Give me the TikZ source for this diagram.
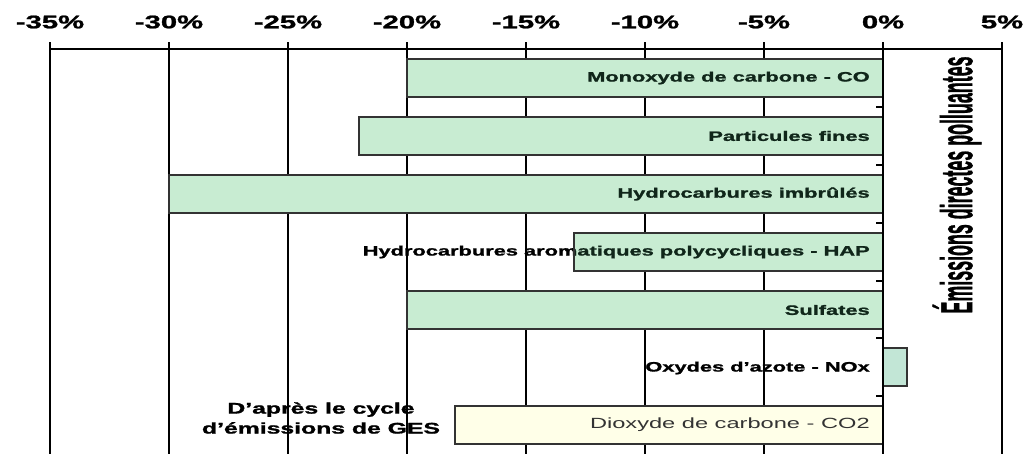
\documentclass[tikz,border=0pt]{standalone}
\usepackage{fontspec}
\setmainfont{Liberation Sans}[BoldFeatures={FakeBold=1.2}]
\definecolor{barg}{HTML}{C8ECD2}
\definecolor{barn}{HTML}{C2E6D6}
\definecolor{bary}{HTML}{FFFFE8}
\definecolor{txtg}{HTML}{10261A}
\tikzset{
  gridline/.style={line width=1.8pt, black},
  barbox/.style={draw=black!80, line width=1.3pt, fill=barg},
  axlbl/.style={font=\fontsize{13}{15}\selectfont\bfseries, inner sep=0},
  barlbl/.style={font=\fontsize{9.7}{11}\selectfont\bfseries, text=txtg, anchor=east, inner sep=0},
  outlbl/.style={barlbl, text=black},
}
\newcommand{\wide}[1]{\scalebox{1.6}[1]{#1}}
\begin{document}
\begin{tikzpicture}[x=0.025cm,y=-0.025cm]
\useasboundingbox (0,0) rectangle (1030,454);
% labels lying outside the bars (crossed by grid lines)
\node[outlbl] (hapout) at (870,252) {\wide{Hydrocarbures aromatiques polycycliques - HAP}};
\node[outlbl] (nox) at (870,368) {\wide{Oxydes d'azote - NOx}};
\node[font=\fontsize{11}{14.2}\selectfont\bfseries, align=center, inner sep=0] (ges) at (321,418)
  {\wide{D'après le cycle}\\\wide{d'émissions de GES}};
% grid and axis
\foreach \p in {-35,-30,...,5} {
  \pgfmathsetmacro\xx{883+23.8*\p}
  \draw[gridline] (\xx,42) -- (\xx,454);
  \node[axlbl] (ax\p) at (\xx,22) {\wide{\p\%}};
}
\draw[gridline] (50,49) -- (1002,49);
% bars
\draw[barbox] (407,59) rectangle (883,97);
\draw[barbox] (359,117) rectangle (883,155);
\draw[barbox] (169,175) rectangle (883,213);
\draw[barbox] (574,233) rectangle (883,271);
\draw[barbox] (407,291) rectangle (883,329);
\draw[barbox, fill=barn] (883,348) rectangle (907,386);
\draw[barbox, fill=bary] (455,406) rectangle (883,444);
% zero axis and category ticks
\draw[gridline] (883,42) -- (883,454);
\foreach \yy in {107,165,223,281,338,396}
  \draw[line width=1.2pt] (876,\yy) -- (883,\yy);
% labels inside the bars
\node[barlbl] (co) at (870,78) {\wide{Monoxyde de carbone - CO}};
\node[barlbl] (pf) at (870,136) {\wide{Particules fines}};
\node[barlbl] (hc) at (870,194) {\wide{Hydrocarbures imbrûlés}};
\begin{scope}
  \clip (575,234) rectangle (882,270);
  \node[barlbl] (hapin) at (870,252) {\wide{Hydrocarbures aromatiques polycycliques - HAP}};
\end{scope}
\node[barlbl] (sulf) at (870,310) {\wide{Sulfates}};
\node[barlbl, font=\fontsize{10.5}{12}\selectfont, text=black!80] (co2) at (870,425) {\wide{Dioxyde de carbone - CO2}};
% vertical title
\node[inner sep=0] (vt) at (957,185)
  {\scalebox{2.5}[1]{\rotatebox{90}{\fontsize{12.7}{14}\selectfont\bfseries Émissions directes polluantes}}};
\end{tikzpicture}
\end{document}
